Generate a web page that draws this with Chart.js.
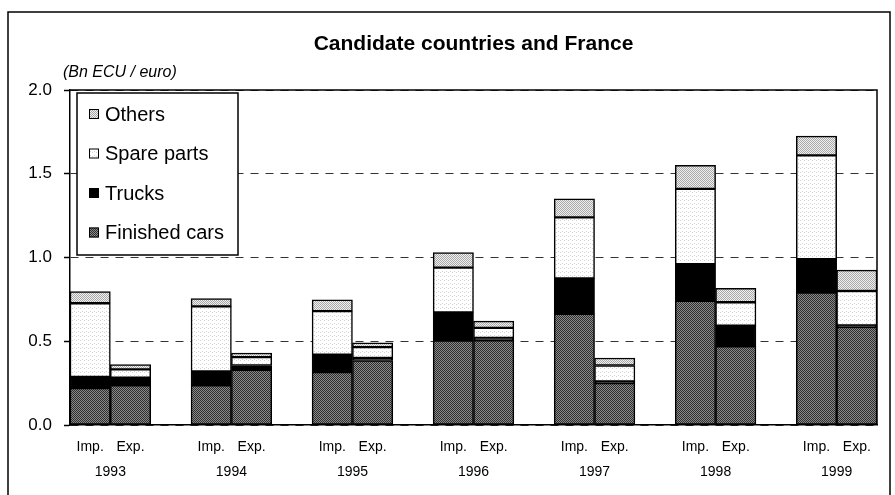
<!DOCTYPE html>
<html>
<head>
<meta charset="utf-8">
<script src="https://cdn.jsdelivr.net/npm/chart.js@4"></script>
<style>
	html, body { margin:0; padding:0; background:#fff; }
	#wrap { position:relative; width:895px; height:495px; }
</style>
</head>
<body>
<div id="wrap"><canvas id="c" width="895" height="495"></canvas></div>
<script>
const years = ['1993','1994','1995','1996','1997','1998','1999']
const flows = ['Imp.','Exp.']
const seriesNames = ['Finished cars','Trucks','Spare parts','Others']

// Bn ECU/euro, one value per year
const carsImp   = [0.22, 0.237, 0.316, 0.504, 0.663, 0.742, 0.79]
const carsExp   = [0.237, 0.33, 0.385, 0.505, 0.25, 0.47, 0.585]
const trucksImp = [0.067, 0.083, 0.104, 0.168, 0.212, 0.218, 0.2]
const trucksExp = [0.046, 0.025, 0.015, 0.015, 0.01, 0.123, 0.01]
const spareImp  = [0.44, 0.388, 0.26, 0.268, 0.365, 0.45, 0.62]
const spareExp  = [0.049, 0.05, 0.065, 0.06, 0.095, 0.14, 0.205]
const otherImp  = [0.07, 0.047, 0.068, 0.09, 0.11, 0.14, 0.115]
const otherExp  = [0.028, 0.025, 0.025, 0.04, 0.045, 0.083, 0.125]

const yTicks = [0, 0.5, 1.0, 1.5, 2.0]

// slots: Imp, Exp, gap, Imp, Exp, gap ... (no gap after the last year)
const slotLabels = []
years.forEach((y,k) => { slotLabels.push(...flows); if (k < years.length-1) slotLabels.push('') })
const slots = (imp, exp) => {
	const out = []
	imp.forEach((v,k) => { out.push(v, exp[k]); if (k < imp.length-1) out.push(null) })
	return out
}

// little dither patterns to imitate the printed shading
const pat = (bg, fg, n, on) => {
	const c = document.createElement('canvas'); c.width = c.height = n
	const x = c.getContext('2d')
	x.fillStyle = bg; x.fillRect(0,0,n,n)
	x.fillStyle = fg
	for (let i=0; i<n; i++) for (let j=0; j<n; j++) if (on(i,j)) x.fillRect(i,j,1,1)
	return x.createPattern(c, 'repeat')
}
const fills = [
	pat('#8a8a8a', '#2e2e2e', 2, (i,j) => (i+j)%2 == 0),
	'#000000',
	pat('#ffffff', '#d2d2d2', 4, (i,j) => i==0 && j==0 || i==2 && j==3),
	pat('#f0f0f0', '#a8a8a8', 2, (i,j) => (i+j)%2 == 0),
]
const values = [[carsImp,carsExp],[trucksImp,trucksExp],[spareImp,spareExp],[otherImp,otherExp]]

const frame = {
	id: 'frame',
	afterDraw: chart => {
		const c = chart.ctx, a = chart.chartArea
		c.save()
		c.strokeStyle = '#000'; c.lineWidth = 1.5
		c.strokeRect(8, 12, 882, 500)
		c.beginPath(); c.moveTo(a.left, a.top); c.lineTo(a.right, a.top); c.lineTo(a.right, a.bottom); c.stroke()

		c.fillStyle = '#000'; c.textBaseline = 'middle'
		c.font = 'italic 16px "Liberation Sans"'
		c.fillText('(Bn ECU / euro)', 63, 73)

		// legend box, top item = last series
		c.fillStyle = '#fff'; c.fillRect(77, 93, 161, 162)
		c.lineWidth = 1.5; c.strokeRect(77, 93, 161, 162)
		c.font = '20px "Liberation Sans"'
		chart.data.datasets.slice().reverse().forEach((d,i) => {
			const y = 114 + i*39.5
			c.fillStyle = d.backgroundColor; c.fillRect(89, y-5, 10, 10)
			c.lineWidth = 1; c.strokeStyle = '#000'; c.strokeRect(89.5, y-4.5, 9, 9)
			c.fillStyle = '#000'; c.fillText(d.label, 105, y+1)
		})
		c.restore()
	}
}

Chart.defaults.font.family = '"Liberation Sans", Arial, sans-serif'
Chart.defaults.color = '#000'

new Chart(document.getElementById('c'), {
	type: 'bar',
	data: {
		labels: slotLabels,
		datasets: seriesNames.map((n,i) => ({
			label: n,
			data: slots(values[i][0], values[i][1]),
			backgroundColor: fills[i],
			borderColor: '#000',
			borderWidth: 1.5,
			borderSkipped: false,
			barPercentage: 1,
			categoryPercentage: 1,
			skipNull: true,
		}))
	},
	options: {
		responsive: false,
		animation: false,
		layout: { padding: { left: 0, right: 18, top: 0, bottom: 0 } },
		plugins: {
			legend: { display: false },
			tooltip: { enabled: false },
			title: {
				display: true,
				fullSize: false,
				text: 'Candidate countries and France',
				font: { size: 21, weight: 'bold' },
				padding: { top: 31.4, bottom: 33.4 },
			},
		},
		scales: {
			x: {
				stacked: true,
				weight: 0,
				grid: { display: false, drawTicks: false },
				border: { color: '#000', width: 1.5 },
				ticks: { font: { size: 14 }, padding: 14, maxRotation: 0, autoSkip: false },
				afterFit: s => { s.height = 32 },
			},
			x2: {
				type: 'linear',
				position: 'bottom',
				weight: 1,
				offset: false,
				min: 0, max: slotLabels.length,
				grid: { display: false, drawTicks: false, offset: false },
				border: { display: false },
				afterBuildTicks: s => { s.ticks = years.map((y,k) => ({ value: 3*k+1 })) },
				ticks: { font: { size: 14 }, padding: 7, maxRotation: 0, autoSkip: false,
					callback: v => years[(v-1)/3] },
				afterFit: s => { s.height = 38 },
			},
			y: {
				stacked: true,
				min: yTicks[0], max: yTicks[yTicks.length-1],
				afterBuildTicks: s => { s.ticks = yTicks.map(v => ({ value: v })) },
				grid: { color: '#333', lineWidth: 1, tickLength: 6, tickColor: '#000', tickWidth: 1.5 },
				border: { color: '#000', width: 1.5, dash: [8,7] },
				ticks: { font: { size: 17 }, padding: 12, callback: v => v.toFixed(1) },
				afterFit: s => { s.width = 70 },
			},
		},
	},
	plugins: [frame],
})
</script>
</body>
</html>
